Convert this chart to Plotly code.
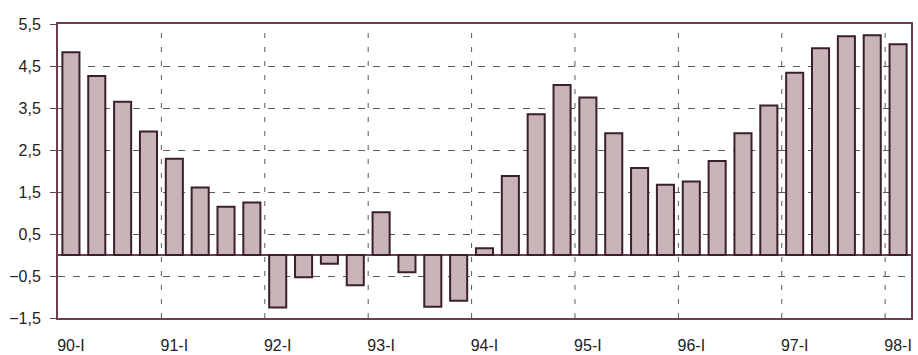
import plotly.graph_objects as go

# Quarterly series, 1990-I to 1998-I
quarters = [f"{y}-{q}" for y in range(90, 98) for q in ("I", "II", "III", "IV")] + ["98-I"]
values = [
    4.83, 4.26, 3.65, 2.94, 2.29, 1.61, 1.15, 1.25,
    -1.25, -0.53, -0.21, -0.72, 1.02, -0.41, -1.23, -1.09,
    0.16, 1.88, 3.35, 4.05, 3.75, 2.90, 2.07, 1.67,
    1.75, 2.24, 2.90, 3.56, 4.34, 4.92, 5.21, 5.23,
    5.02,
]
year_ticks = [i for i, q in enumerate(quarters) if q.endswith("-I")]
year_labels = [quarters[i] for i in year_ticks]
y_ticks = [-1.5, -0.5, 0.5, 1.5, 2.5, 3.5, 4.5, 5.5]

frame = "#6e3d4a"
grid = "#5a5a5a"

x = list(range(len(quarters)))

fig = go.Figure()
fig.add_trace(go.Bar(
    x=x,
    y=values,
    marker=dict(
        color="#c9b6b9",
        line=dict(color="#3b1f2c", width=2),
        pattern=dict(shape=".", size=2, solidity=0.25,
                     fgcolor="#a68c93", bgcolor="#d2c1c3", fillmode="replace"),
    ),
    hovertext=quarters,
    showlegend=False,
))

# dashed year separators between the last and first quarter of each year
for i in year_ticks[1:]:
    fig.add_shape(type="line", xref="x", yref="paper",
                  x0=i - 0.5, x1=i - 0.5, y0=0, y1=1,
                  line=dict(color=grid, width=1, dash="5px,9px"), layer="below")

fig.update_layout(
    width=918, height=355,
    margin=dict(l=58, r=7, t=24, b=37),
    paper_bgcolor="white", plot_bgcolor="white",
    bargap=0.34,
    separators=",.",
    font=dict(family="Liberation Sans, Arial, sans-serif", size=16, color="#222222"),
)
fig.update_xaxes(
    range=[-0.5, len(quarters) - 0.5],
    tickmode="array", tickvals=year_ticks, ticktext=year_labels,
    showgrid=False, zeroline=False,
    showline=True, linecolor=frame, linewidth=1.5, mirror=True,
    ticks="", ticklabelstandoff=12, automargin=False,
)
fig.update_yaxes(
    range=[-1.5, 5.5],
    tickmode="array", tickvals=y_ticks, tickformat=".1f",
    showgrid=True, gridcolor=grid, gridwidth=1, griddash="7px,8px",
    zeroline=True, zerolinecolor=frame, zerolinewidth=1.5,
    showline=True, linecolor=frame, linewidth=2, mirror=True,
    ticks="outside", ticklen=6, tickcolor=frame, tickwidth=1,
    ticklabelstandoff=6, automargin=False,
)

fig.write_html("out.html")
